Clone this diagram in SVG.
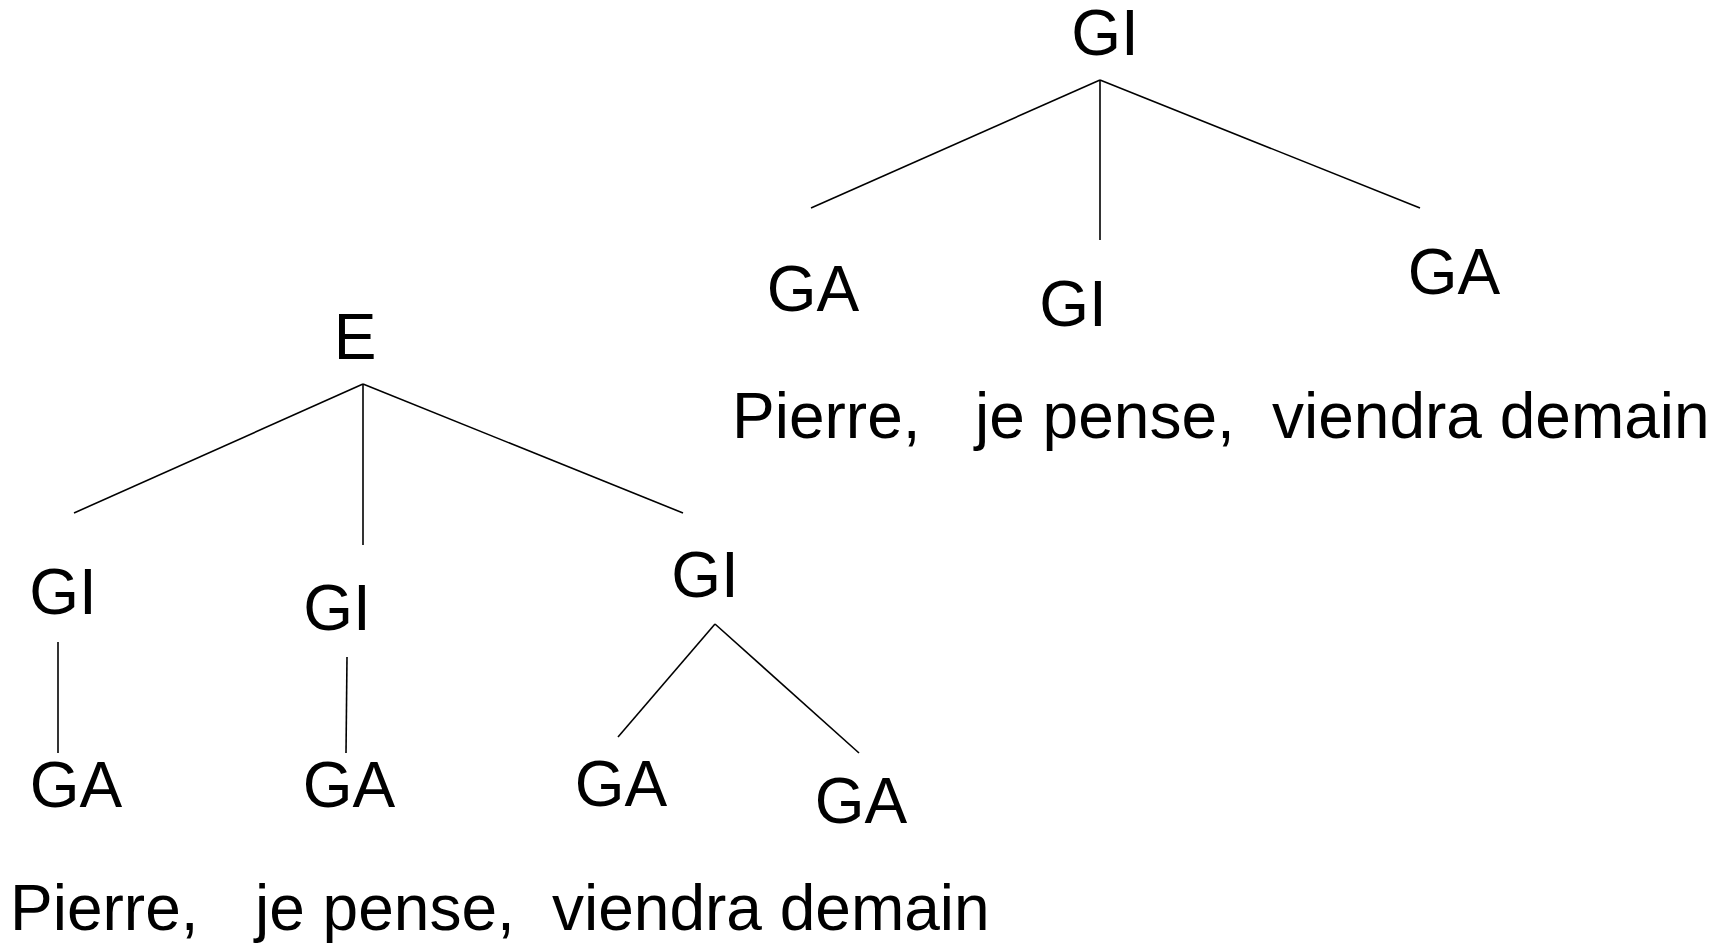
<svg xmlns="http://www.w3.org/2000/svg" width="1722" height="949" viewBox="0 0 1722 949">
<style>
text{font-family:"Liberation Sans",Arial,sans-serif;font-size:64px;fill:#000}
.n{text-anchor:middle}
line{stroke:#000;stroke-width:1.6;fill:none}
</style>
<rect width="1722" height="949" fill="#fff"/>
<g id="connectors">
<line x1="1100" y1="80" x2="811" y2="208"/>
<line x1="1100" y1="80" x2="1100" y2="240"/>
<line x1="1100" y1="80" x2="1420" y2="208"/>
<line x1="363" y1="384" x2="74" y2="513"/>
<line x1="363" y1="384" x2="363" y2="545"/>
<line x1="363" y1="384" x2="683" y2="513"/>
<line x1="58" y1="642" x2="58" y2="753"/>
<line x1="347" y1="657" x2="346" y2="753"/>
<line x1="715" y1="624" x2="618" y2="737"/>
<line x1="715" y1="624" x2="859" y2="753"/>
</g>
<g id="t-GI-root"><text class="n" x="1105" y="55">GI</text></g>
<g id="t-GA-1"><text class="n" x="813" y="311">GA</text></g>
<g id="t-GI-2"><text class="n" x="1073" y="326">GI</text></g>
<g id="t-GA-3"><text class="n" x="1454" y="294">GA</text></g>
<g id="t-sentence"><text x="732" y="438">Pierre,</text><text x="975" y="438">je pense,</text><text x="1272" y="438">viendra demain</text></g>
<g id="l-E"><text class="n" x="355" y="359">E</text></g>
<g id="l-GI-1"><text class="n" x="63" y="614">GI</text></g>
<g id="l-GI-2"><text class="n" x="337" y="630">GI</text></g>
<g id="l-GI-3"><text class="n" x="705" y="597">GI</text></g>
<g id="l-GA-1"><text class="n" x="76" y="807">GA</text></g>
<g id="l-GA-2"><text class="n" x="349" y="807">GA</text></g>
<g id="l-GA-3"><text class="n" x="621" y="806">GA</text></g>
<g id="l-GA-4"><text class="n" x="861" y="823">GA</text></g>
<g id="l-sentence"><text x="10" y="930">Pierre,</text><text x="255" y="930">je pense,</text><text x="552" y="930">viendra demain</text></g>
</svg>
